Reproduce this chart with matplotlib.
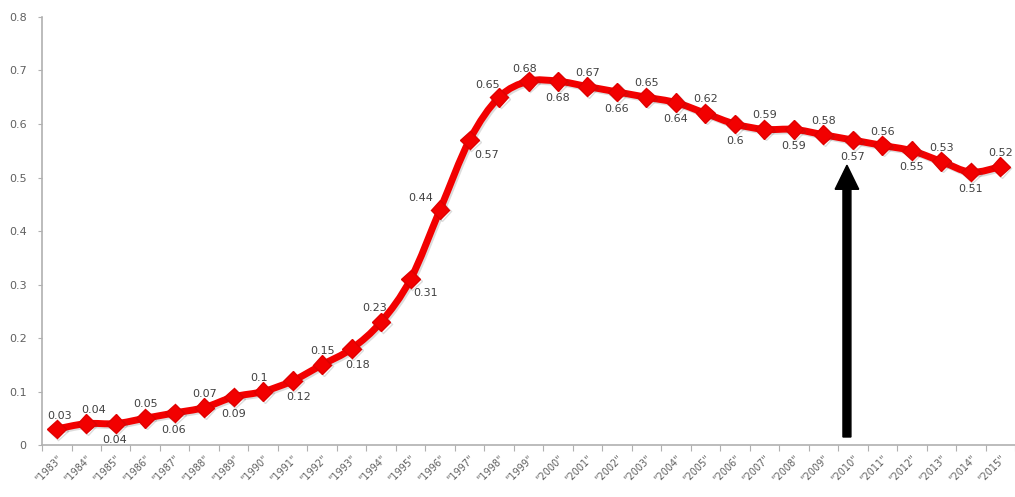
import matplotlib
matplotlib.use('Agg')

import matplotlib.pyplot as plt
import matplotlib.patheffects as pe
from matplotlib.path import Path
from matplotlib.patches import PathPatch, FancyArrow
import numpy as np

years = list(range(1983, 2016))
values = [0.03, 0.04, 0.04, 0.05, 0.06, 0.07, 0.09, 0.1, 0.12, 0.15, 0.18,
          0.23, 0.31, 0.44, 0.57, 0.65, 0.68, 0.68, 0.67, 0.66, 0.65, 0.64,
          0.62, 0.6, 0.59, 0.59, 0.58, 0.57, 0.56, 0.55, 0.53, 0.51, 0.52]
tick_labels = ['"%d"' % y for y in years]
# where each value label sits: (dx, dy) in points from the marker
label_pos = [(2, 9), (5, 10), (-1, -12), (0, 10), (-1, -12), (0, 10), (0, -12),
             (-3, 10), (4, -12), (0, 10), (4, -12), (-5, 10), (11, -10),
             (-14, 8), (12, -11), (-8, 9), (-3, 9), (0, -12), (0, 10),
             (0, -12), (0, 10), (0, -12), (0, 10), (0, -12), (0, 10),
             (0, -12), (0, 10), (0, -12), (0, 10), (0, -12), (0, 10),
             (0, -12), (0, 10)]
arrow_x = 26.8
arrow_top = 0.523

red = '#f20000'
grey = '#606060'

fig = plt.figure(figsize=(10.15, 4.97), dpi=100)
ax = fig.add_axes([0.0414, 0.1046, 0.9586, 0.8612])

x = np.arange(len(values))
y = np.array(values, dtype=float)

shadow = [pe.SimpleLineShadow(offset=(1.2, -1.2), alpha=0.18,
                              shadow_color='#404040'),
          pe.Normal()]

# smoothed line through the points (Catmull-Rom as cubic Bezier segments)
pts = np.column_stack([x, y])
ext = np.vstack([pts[0], pts, pts[-1]])
verts = [tuple(pts[0])]
codes = [Path.MOVETO]
for i in range(len(pts) - 1):
    p0, p1, p2, p3 = ext[i], ext[i + 1], ext[i + 2], ext[i + 3]
    c1 = p1 + (p2 - p0) / 6.0
    c2 = p2 - (p3 - p1) / 6.0
    verts += [tuple(c1), tuple(c2), tuple(p2)]
    codes += [Path.CURVE4] * 3
curve = PathPatch(Path(verts, codes), facecolor='none', edgecolor=red,
                  linewidth=5, capstyle='round', joinstyle='round', zorder=3,
                  path_effects=shadow)
ax.add_patch(curve)

ax.plot(x, y, linestyle='none', marker='D', markersize=9.5, color=red,
        markeredgecolor='#e00000', zorder=4, path_effects=shadow)

for xi, yi, (dx, dy) in zip(x, y, label_pos):
    ax.annotate('%g' % yi, (xi, yi), xytext=(dx, dy), textcoords='offset points',
                ha='center', va='center', fontsize=8, color='#404040',
                zorder=5, annotation_clip=False)

# vertical arrow
ax.add_patch(FancyArrow(arrow_x, 0.015, 0, arrow_top - 0.015, width=0.27,
                        head_width=0.8, head_length=0.045,
                        length_includes_head=True, color='black', zorder=6))

ax.set_xlim(-0.5, len(values) - 0.5)
ax.set_ylim(0, 0.8)
ax.set_yticks(np.arange(0, 0.81, 0.1))
ax.set_yticklabels(['0', '0.1', '0.2', '0.3', '0.4', '0.5', '0.6', '0.7', '0.8'])
ax.set_xticks(x)
ax.set_xticklabels(tick_labels, rotation=45, ha='right', rotation_mode='anchor')
ax.set_xticks(np.arange(-0.5, len(values)), minor=True)

ax.tick_params(axis='y', colors='#b0b0b0', labelcolor=grey, labelsize=8,
               length=3, width=0.8, pad=8)
ax.tick_params(axis='x', which='major', length=0, labelcolor=grey, labelsize=7,
               pad=6)
ax.tick_params(axis='x', which='minor', colors='#b0b0b0', length=4, width=0.8)

for side in ('top', 'right'):
    ax.spines[side].set_visible(False)
for side in ('left', 'bottom'):
    ax.spines[side].set_color('#b0b0b0')
    ax.spines[side].set_linewidth(1.2)

fig.savefig('out.png', dpi=100)
